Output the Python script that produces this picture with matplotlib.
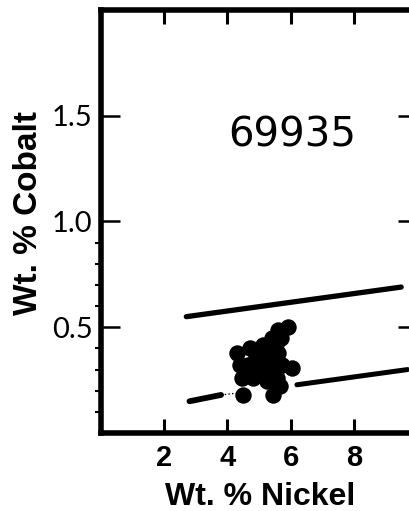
import matplotlib
matplotlib.use("Agg")
import matplotlib.pyplot as plt
from matplotlib.ticker import FixedLocator

# Data
upper_ni = [2.7, 9.5]
upper_co = [0.55, 0.69]
lower_ni_a = [2.8, 3.8]
lower_co_a = [0.15, 0.18]
lower_ni_b = [6.2, 9.7]
lower_co_b = [0.228, 0.30]
cluster_ni = [5.61, 5.93, 5.56, 4.29, 4.40, 4.45, 4.50, 4.72, 5.14, 5.45,
              4.93, 5.35, 4.82, 5.24, 5.56, 6.03, 5.45, 5.66, 5.72, 4.66,
              5.0, 5.3, 5.6, 5.1, 4.9, 5.2, 5.5, 4.6, 5.4, 5.7, 5.05]
cluster_co = [0.487, 0.503, 0.43, 0.377, 0.32, 0.26, 0.18, 0.40, 0.417, 0.385,
              0.32, 0.31, 0.26, 0.245, 0.26, 0.307, 0.18, 0.22, 0.32, 0.32,
              0.37, 0.36, 0.38, 0.28, 0.36, 0.34, 0.34, 0.28, 0.45, 0.45, 0.40]
x_ticks = [2, 4, 6, 8]
y_ticks = [0.5, 1.0, 1.5]
y_tick_labels = ["0.5", "1.0", "1.5"]
y_minor = [0.1, 0.2, 0.3, 0.4, 0.6, 0.7, 0.8, 0.9]
sample_label = "69935"

fig = plt.figure(figsize=(4.09, 5.11), dpi=100)
ax = fig.add_axes([101/409, 1-433/511, 316/409, 423/511])
ax.set_xlim(0, 10)
ax.set_ylim(0, 2.0)

ax.plot(upper_ni, upper_co, color="black", lw=3.8, solid_capstyle="round")
ax.plot(lower_ni_a, lower_co_a, color="black", lw=4.2, solid_capstyle="round")
ax.plot(lower_ni_b, lower_co_b, color="black", lw=3.6, solid_capstyle="round")
ax.plot([3.8, 4.4], [0.18, 0.19], color="black", lw=1.0, ls=":")
ax.scatter(cluster_ni, cluster_co, s=140, color="black", zorder=3, linewidths=0)

ax.text(6.04, 1.405, sample_label, fontsize=29, family="DejaVu Sans", ha="center", va="center")

for s in ax.spines.values():
    s.set_linewidth(4.0)

ax.set_xticks(x_ticks)
ax.set_xticklabels([str(v) for v in x_ticks], fontsize=21, family="Liberation Sans", fontweight="bold")
ax.set_yticks(y_ticks)
ax.set_yticklabels(y_tick_labels, fontsize=21, family="Lato")
ax.yaxis.set_minor_locator(FixedLocator(y_minor))
ax.tick_params(axis="x", which="major", direction="in", top=True, bottom=True, length=10, width=2.2, pad=8)
ax.tick_params(axis="y", which="major", direction="in", left=True, right=True, length=14, width=1.8, pad=6)
ax.tick_params(axis="y", which="minor", direction="out", left=True, right=False, length=4, width=1.5)

fig.text(260/409, 1-505/511, "Wt. % Nickel", fontsize=23, family="Liberation Sans",
         fontweight="bold", ha="center", va="baseline")
fig.text(29/409, 1-213/511, "Wt. % Cobalt", fontsize=24, family="Liberation Sans",
         fontweight="bold", ha="center", va="center", rotation=90)

fig.savefig("out.png", dpi=100)
